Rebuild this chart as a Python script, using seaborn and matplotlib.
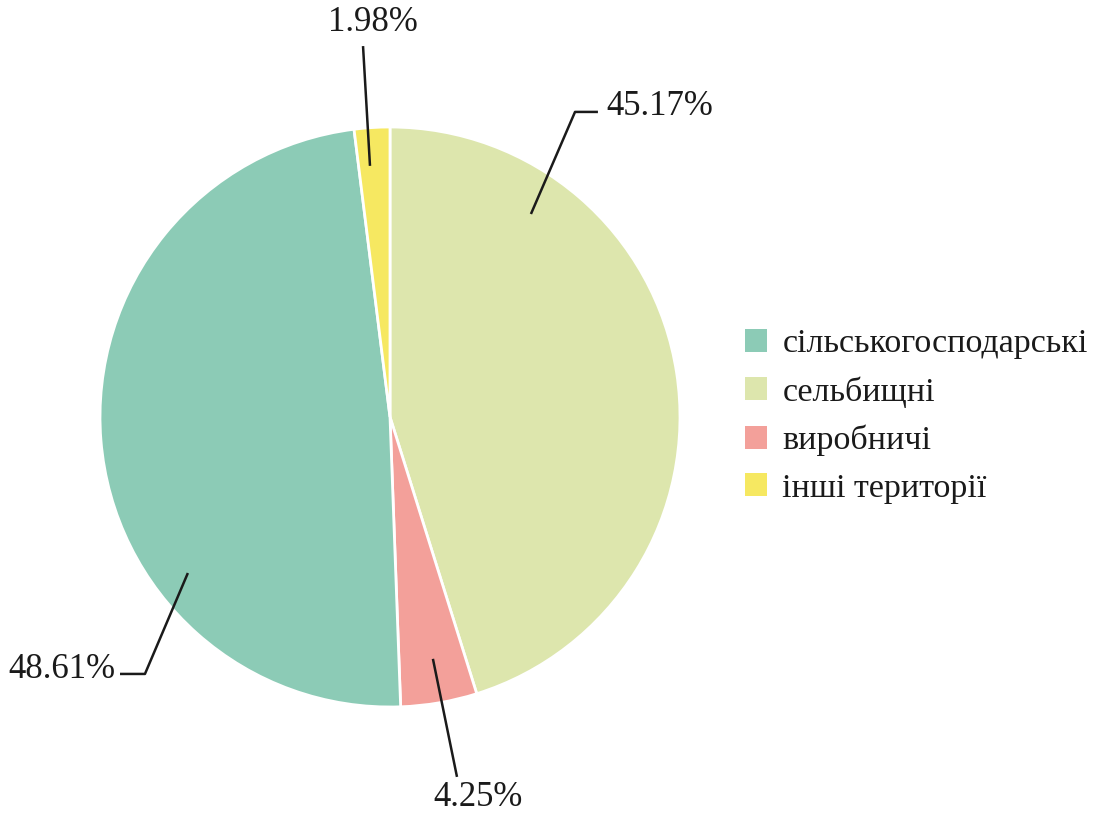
import matplotlib
matplotlib.use("Agg")
import matplotlib.pyplot as plt
import seaborn as sns
from matplotlib.patches import Patch

# data, in legend order
categories = ["сільськогосподарські", "сельбищні", "виробничі", "інші території"]
shares = [48.61, 45.17, 4.25, 1.98]
labels = ["48.61%", "45.17%", "4.25%", "1.98%"]
colors = ["#8ccbb6", "#dde6ad", "#f3a09a", "#f6e861"]

# order of wedges clockwise from the top
pie_order = [1, 2, 0, 3]

sns.set_theme(style="white")
plt.rcParams["font.family"] = ["Liberation Serif", "DejaVu Serif"]

fig = plt.figure(figsize=(10.97, 8.16), dpi=100)
ax = fig.add_axes([100 / 1097, 109 / 816, 580 / 1097, 580 / 816])

pal = sns.color_palette(colors)
ax.pie([shares[i] for i in pie_order], colors=[pal[i] for i in pie_order],
       startangle=90, counterclock=False, radius=1.0,
       wedgeprops=dict(edgecolor="white", linewidth=2))
ax.set_xlim(-1, 1)
ax.set_ylim(-1, 1)
ax.set_aspect("equal")

# leader lines (data units of the pie axes), per category in legend order
leaders = [
    [(-0.697, -0.538), (-0.845, -0.886), (-0.931, -0.886)],
    [(0.486, 0.70), (0.638, 1.052), (0.717, 1.052)],
    [(0.148, -0.834), (0.231, -1.241)],
    [(-0.069, 0.866), (-0.093, 1.279)],
]
text_pos = [(-0.948, -0.872, "right"), (0.745, 1.072, "left"),
            (0.303, -1.312, "center"), (-0.059, 1.359, "center")]

for i in range(len(categories)):
    xs = [p[0] for p in leaders[i]]
    ys = [p[1] for p in leaders[i]]
    ax.plot(xs, ys, color="#1a1a1a", lw=1.8, clip_on=False, solid_capstyle="butt")
    tx, ty, ha = text_pos[i]
    ax.text(tx, ty, labels[i], ha=ha, va="center", fontsize=25,
            color="#1a1a1a", clip_on=False)

handles = [Patch(facecolor=pal[i], edgecolor="none") for i in range(len(categories))]
fig.legend(handles, categories, loc="center left", bbox_to_anchor=(0.679, 0.49),
           frameon=False, fontsize=24.5, handlelength=0.65, handleheight=0.65,
           handletextpad=0.45, labelspacing=0.5, borderpad=0, borderaxespad=0,
           labelcolor="#1a1a1a")

fig.savefig("out.png", dpi=100, facecolor="white")
